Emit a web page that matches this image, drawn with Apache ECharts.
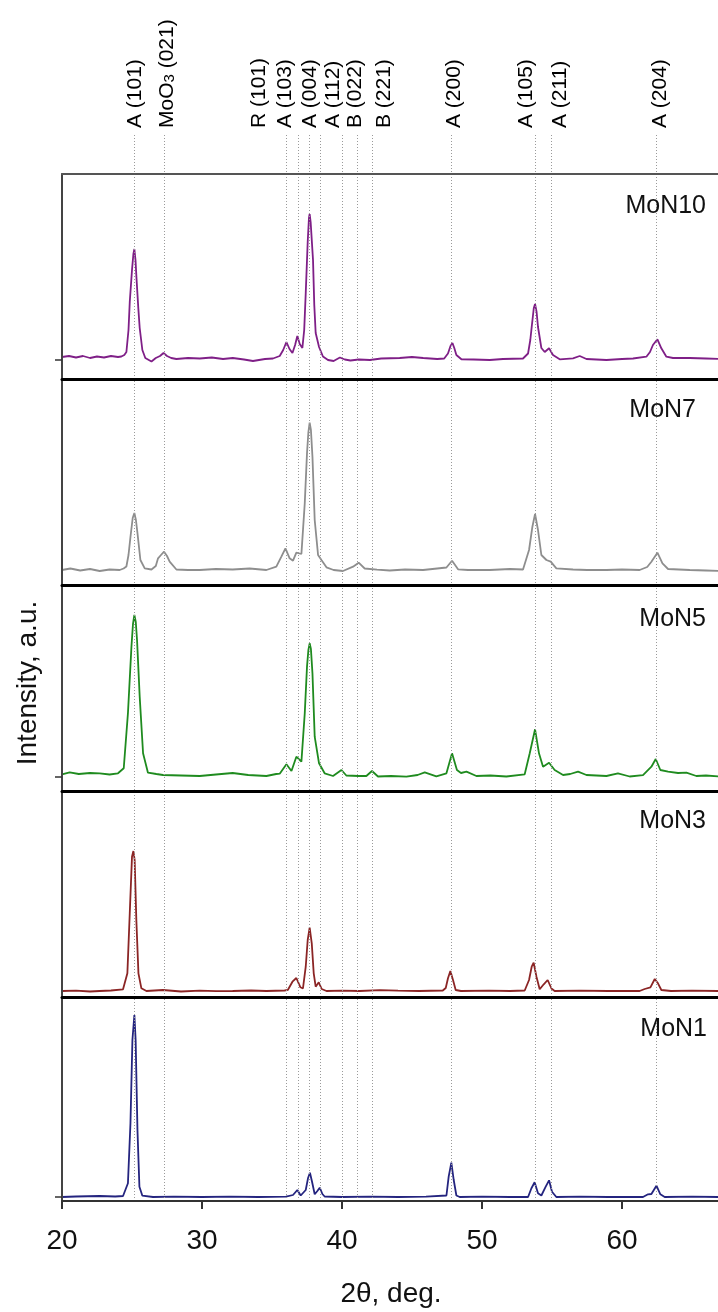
<!DOCTYPE html>
<html><head><meta charset="utf-8">
<script src="https://cdn.jsdelivr.net/npm/echarts@6/dist/echarts.min.js"></script>
<style>html,body{margin:0;padding:0;background:#fff}#c{width:718px;height:1312px}</style>
</head><body><div id="c"></div>
<script>
const FONT = "'Liberation Sans', Arial, sans-serif";

// ---------- data ----------
const sampleNames = ['MoN10', 'MoN7', 'MoN5', 'MoN3', 'MoN1'];
const xTicks = [20, 30, 40, 50, 60];

// reflection positions (2θ) of the dotted reference lines
const refLines = [25.14, 27.31, 36.03, 36.86, 37.67, 38.46, 40.0, 41.1, 42.17, 47.79, 53.81, 54.98, 62.48];
// reflection labels and where their text sits (2θ)
const refLabels = ['A (101)', 'MoO3 (021)', 'R (101)', 'A (103)', 'A (004)', 'A (112)', 'B (022)', 'B (221)', 'A (200)', 'A (105)', 'A (211)', 'A (204)'];
const refLabelPos = [25.26, 27.48, 34.12, 35.91, 37.76, 39.34, 40.91, 42.98, 47.98, 53.19, 55.62, 62.74];

// patterns: [2θ, intensity a.u.]
const mon10 = [[20.0,3],[20.5,4],[21.0,2.5],[21.5,4],[22.0,2],[22.5,3.5],[23.0,2.5],[23.5,4],[24.0,3],[24.24,3.5],[24.45,5],[24.6,8],[24.75,30],[24.84,58],[25.0,90],[25.1,106],[25.17,111],[25.25,100],[25.32,82],[25.45,52],[25.55,32],[25.74,10],[25.95,2],[26.39,-1.5],[26.7,2],[27.0,4],[27.25,7],[27.5,4],[27.8,2],[28.17,1],[29.0,2],[29.84,1.5],[30.7,2.5],[31.5,1],[32.2,2],[33.0,0.5],[33.64,-1],[34.5,1],[35.07,1.5],[35.55,4],[35.8,10],[36.03,18],[36.25,11],[36.46,7],[36.65,15],[36.81,24],[36.98,16],[37.17,12],[37.3,30],[37.41,67],[37.55,118],[37.64,142],[37.69,146],[37.76,138],[37.93,100],[38.02,55],[38.12,27],[38.36,13],[38.64,3.5],[39.0,0],[39.4,-1],[39.85,2.5],[40.2,0.5],[40.6,-0.5],[41.2,0.5],[42.0,0],[42.8,1.5],[44.12,2],[45.0,3],[45.8,2],[46.8,1],[47.3,1.5],[47.57,6.5],[47.75,14],[47.89,17],[48.02,12],[48.17,5],[48.53,0.7],[49.4,0.5],[50.55,0],[51.5,1],[52.93,1.5],[53.29,6.5],[53.45,20],[53.55,33],[53.7,52],[53.79,56],[53.9,48],[54.0,33],[54.24,12],[54.48,8],[54.79,11.7],[55.07,5],[55.55,0.7],[56.5,1.7],[56.98,4],[57.46,1],[58.89,0],[60.0,1],[60.79,1.5],[61.74,3.3],[62.0,8],[62.21,15],[62.53,20.7],[62.81,11.7],[63.17,3.3],[63.64,2],[64.84,2],[66.0,1.5],[67.0,1]];
const mon7 = [[20.0,0],[20.6,1.5],[21.3,-0.5],[22.0,1],[22.69,-1],[23.4,0.5],[24.12,0],[24.4,1.5],[24.6,3.5],[24.75,15],[24.89,33],[25.05,52],[25.17,57],[25.28,50],[25.39,37],[25.6,10],[25.91,1.7],[26.39,0.5],[26.7,4],[26.86,11.7],[27.07,15],[27.29,18.3],[27.5,14],[27.69,8.3],[28.17,0.5],[29.0,0],[29.84,0],[31.0,1],[32.19,0.5],[33.4,1.5],[34.6,0],[35.31,3.3],[35.67,13.3],[35.96,21.7],[36.26,11.7],[36.5,9.3],[36.74,17.3],[37.1,16],[37.34,66.7],[37.5,116.7],[37.6,138],[37.69,147.3],[37.78,140],[37.89,113.3],[38.05,50],[38.29,15],[38.53,10],[38.89,2.7],[39.4,0],[40.07,-1],[40.79,3.3],[41.19,7.3],[41.62,1.5],[42.5,0.3],[43.41,-0.5],[44.5,0.5],[45.79,0],[46.8,1.5],[47.46,2.5],[47.86,9.3],[48.29,0.7],[49.0,0],[50.55,0],[52.0,1],[52.93,0.5],[53.36,20],[53.6,43.3],[53.79,56],[54.0,40],[54.24,15],[54.6,10],[54.91,8.3],[55.31,1.7],[56.5,0.5],[57.5,0],[58.89,0],[60.0,0.5],[61.26,0],[61.8,3],[62.1,8.3],[62.53,17.3],[62.89,6.7],[63.29,1],[64.84,0],[66.0,-0.5],[67.0,-1]];
const mon5 = [[20.0,2.7],[20.55,4.7],[21.2,3],[22.0,4],[22.69,3.7],[23.4,2.5],[24.0,3.7],[24.41,8.7],[24.71,63.7],[24.96,130.3],[25.07,153],[25.17,162],[25.27,155],[25.36,137],[25.55,80.3],[25.79,23.7],[26.14,4.3],[26.74,3],[27.21,2],[28.5,1.5],[29.84,1],[31.0,2.5],[32.19,4],[33.3,2],[34.6,1],[35.3,3],[35.55,3.3],[36.03,12.7],[36.39,6],[36.74,20.3],[37.1,15.3],[37.34,63.7],[37.5,110.3],[37.6,127],[37.69,133.7],[37.78,128],[37.89,103.7],[38.05,40.3],[38.36,13.7],[38.76,3.7],[39.36,1],[39.96,7],[40.31,1.5],[41.2,1],[41.74,1],[42.14,6],[42.57,0.5],[43.5,1],[44.6,0.3],[45.4,2],[45.91,4.7],[46.74,0.7],[47.46,3.7],[47.86,23.7],[48.21,7],[48.5,4],[48.89,5.3],[49.6,1],[50.6,1.5],[51.74,0.5],[53.05,2.7],[53.41,23.7],[53.79,47.7],[54.07,23.7],[54.36,10.3],[54.79,14.3],[55.19,7],[55.79,2],[56.3,3],[56.86,5.3],[57.46,2],[58.89,1],[59.71,3.7],[60.55,0.5],[61.5,1.8],[62.1,10.3],[62.41,18],[62.74,7],[63.29,5.3],[64.0,4],[64.6,4.3],[65.31,1],[66.0,1.5],[67.0,0.5]];
const mon3 = [[20.0,0],[21.0,0.3],[22.0,-0.5],[22.69,0],[23.5,0.5],[24.36,1.7],[24.67,17.7],[24.84,77.7],[25.0,134.3],[25.1,140],[25.19,131],[25.31,71],[25.46,17.7],[25.67,2.7],[26.03,0],[27.21,1],[28.5,-0.5],[29.84,0.3],[31.0,-0.2],[32.19,0],[33.5,0.5],[34.6,0],[35.9,0.5],[36.14,1.2],[36.46,9.3],[36.74,13],[37.03,3.7],[37.21,2.5],[37.41,24.3],[37.55,51],[37.69,63.3],[37.84,47.7],[37.98,17.7],[38.12,4.3],[38.34,8.7],[38.55,2],[38.89,0],[40.0,0.3],[41.26,0],[42.7,0.8],[44.0,0.3],[45.5,0],[47.2,0.5],[47.41,3],[47.57,12.7],[47.74,20],[47.93,11],[48.12,1],[48.5,0],[50.5,0.3],[52.0,0],[53.05,0.5],[53.36,11],[53.55,24.3],[53.69,28.3],[53.89,14.3],[54.12,1.7],[54.41,6.7],[54.69,11],[54.96,2.5],[55.19,0],[57.0,0.3],[59.0,0],[61.26,0],[61.62,2],[62.03,3.7],[62.34,12],[62.57,7.7],[62.81,1],[63.5,0],[65.0,0.3],[67.0,0]];
const mon1 = [[20.0,0],[21.0,0.5],[22.69,1],[23.8,0.5],[24.36,1],[24.71,13.7],[24.89,73.7],[25.03,157],[25.17,182],[25.26,157],[25.39,67],[25.53,10.3],[25.74,1.3],[26.5,0],[28.0,0.3],[30.0,0],[32.0,0.4],[34.0,0],[36.0,0.3],[36.5,2],[36.81,7],[37.05,1.5],[37.41,7],[37.57,18.7],[37.71,24.3],[37.86,15.3],[38.05,2.7],[38.24,6],[38.41,9.3],[38.6,3],[38.76,0.5],[40.0,0],[42.0,0.3],[44.0,0],[46.0,0.3],[47.46,1.5],[47.62,20.3],[47.81,34.3],[47.98,17],[48.17,1.5],[48.41,0],[50.0,0.3],[52.0,0],[53.29,0],[53.53,8.7],[53.76,14.7],[54.0,3.7],[54.24,1.5],[54.55,10.3],[54.79,16.7],[55.0,5.3],[55.31,0],[57.0,0.3],[59.0,0],[61.5,0],[61.86,2.7],[62.1,3],[62.46,11.3],[62.74,2.7],[63.05,0],[65.0,0.3],[67.0,0]];

// per-panel intensity axis range
const yMin = [-19, -15, -14, -6, -4];
const yMax = [186, 191, 192, 200, 200];
const showZeroTick = [true, false, true, false, true];

// ---------- layout / style ----------
const patterns = [mon10, mon7, mon5, mon3, mon1];
const colors = ['#7f1f87', '#8e8e8e', '#1f8b1f', '#8b2525', '#24247f'];
const panelTop = [174, 379, 585, 791, 997];
const panelH = [205, 206, 206, 206, 204];
const labelTop = [194, 398, 607, 809, 1017];
const labelRight = [12, 22, 12, 12, 11];

const grids = [], xAxes = [], yAxes = [], series = [], titles = [];
for (let i = 0; i < 5; i++) {
  const last = i === 4;
  grids.push({ left: 62, right: -2, top: panelTop[i], height: panelH[i], outerBoundsMode: 'none' });
  xAxes.push({
    gridIndex: i, type: 'value', min: 20, max: 67, z: 5,
    axisLine: { show: true, onZero: false, lineStyle: { color: last ? '#333' : '#000', width: last ? 2 : 3 } },
    axisTick: { show: last, inside: false, length: 8, customValues: xTicks, lineStyle: { color: '#333', width: 2 } },
    axisLabel: { show: last, customValues: xTicks, fontSize: 28, color: '#111', margin: 26, fontFamily: FONT },
    splitLine: { show: false },
    name: last ? '2θ, deg.' : '', nameLocation: 'middle', nameGap: 79,
    nameTextStyle: { fontSize: 28, color: '#111', fontFamily: FONT }
  });
  yAxes.push({
    gridIndex: i, type: 'value', min: yMin[i], max: yMax[i], z: 5,
    axisLine: { show: true, onZero: false, lineStyle: { color: '#444', width: 2 } },
    axisTick: { show: showZeroTick[i], inside: false, length: 7, customValues: [0], lineStyle: { color: '#333', width: 1.5 } },
    axisLabel: { show: false }, splitLine: { show: false },
    name: i === 2 ? 'Intensity, a.u.' : '', nameLocation: 'middle', nameGap: 20,
    nameTextStyle: { fontSize: 28, color: '#111', fontFamily: FONT, padding: [0, 0, 0, 10] }
  });
  series.push({
    type: 'line', xAxisIndex: i, yAxisIndex: i, data: patterns[i],
    showSymbol: false, symbol: 'none', z: 3,
    lineStyle: { color: colors[i], width: 1.8 }
  });
  titles.push({
    text: sampleNames[i], right: labelRight[i], top: labelTop[i], padding: 0,
    textStyle: { fontSize: 25, fontWeight: 'normal', color: '#111', fontFamily: FONT }
  });
}
// top frame line of the upper panel
xAxes.push({
  gridIndex: 0, type: 'value', min: 20, max: 67, position: 'top', z: 5,
  axisLine: { show: true, onZero: false, lineStyle: { color: '#555', width: 2 } },
  axisTick: { show: false }, axisLabel: { show: false }, splitLine: { show: false }
});
// overlay grid for reflection lines and labels
grids.push({ left: 62, right: -2, top: 133, bottom: 111, outerBoundsMode: 'none' });
xAxes.push({ gridIndex: 5, type: 'value', min: 20, max: 67, show: false });
yAxes.push({ gridIndex: 5, type: 'value', min: 0, max: 1, show: false });
series.push({
  type: 'scatter', xAxisIndex: 6, yAxisIndex: 5, z: 1, clip: false,
  symbolSize: 0, itemStyle: { color: 'transparent' }, silent: true,
  data: refLabels.map((t, k) => ({ value: [refLabelPos[k], 1], name: t })),
  label: {
    show: true, position: 'top', distance: 5, rotate: 90, align: 'left', verticalAlign: 'middle',
    fontSize: 21, color: '#000', opacity: 1, fontFamily: FONT,
    formatter: p => p.name.indexOf('MoO3') === 0 ? '{n|MoO}{s|3}{n|' + p.name.slice(4) + '}' : '{n|' + p.name + '}',
    rich: {
      n: { fontSize: 21, color: '#000', fontFamily: FONT },
      s: { fontSize: 15, color: '#000', fontFamily: FONT, verticalAlign: 'bottom' }
    }
  },
  markLine: {
    silent: true, symbol: ['none', 'none'], label: { show: false },
    lineStyle: { type: [1, 2], color: '#9a9a9a', width: 1 },
    emphasis: { disabled: true },
    data: refLines.map(v => ({ xAxis: v }))
  }
});

const chart = echarts.init(document.getElementById('c'), null, { renderer: 'canvas' });
chart.setOption({
  animation: false,
  backgroundColor: '#fff',
  title: titles,
  grid: grids, xAxis: xAxes, yAxis: yAxes, series: series
});
</script></body></html>
